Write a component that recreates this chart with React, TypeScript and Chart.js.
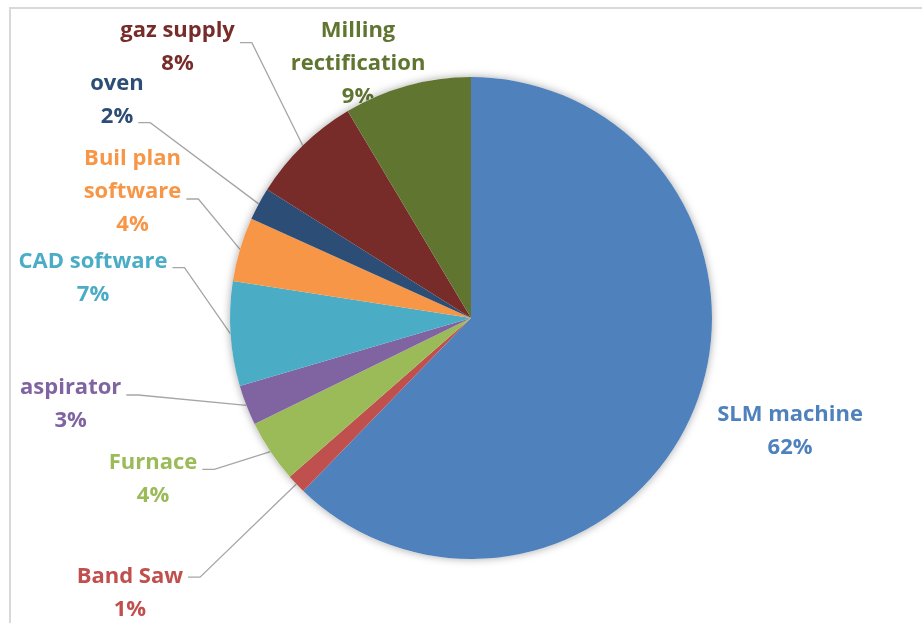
import React, { useEffect, useRef } from "react";
import { Chart, registerables } from "chart.js";

Chart.register(...registerables);

const CATEGORIES = [
  "SLM machine",
  "Band Saw",
  "Furnace",
  "aspirator",
  "CAD software",
  "Buil plan software",
  "oven",
  "gaz supply",
  "Milling rectification",
];
const VALUES = [62.25, 1.3, 4.2, 2.7, 7.0, 4.3, 2.2, 7.5, 8.55];
const COLORS = [
  "#4F81BD",
  "#C0504D",
  "#9BBB59",
  "#8064A2",
  "#4BACC6",
  "#F79646",
  "#2C4D75",
  "#772C2A",
  "#5F7530",
];
// how each category name wraps in its data label
const LABEL_LINES = [
  ["SLM machine"],
  ["Band Saw"],
  ["Furnace"],
  ["aspirator"],
  ["CAD software"],
  ["Buil plan", "software"],
  ["oven"],
  ["gaz supply"],
  ["Milling", "rectification"],
];

// label layout: offset of label centre from the slice's outer mid-point, and leader anchor y (null = no leader)
const LABEL_LAYOUT: [number, number, number | null][] = [
  [95.7, 21.5, null],
  [-166.5, 107.8, -14.7],
  [-117.4, 25.9, -8.2],
  [-175.7, -2.3, -8],
  [-137.5, -57.4, -8.8],
  [-107.5, -58.8, 8.5],
  [-141.7, -104.9, 23.7],
  [-125.2, -99.5, -3.3],
  [-49, -23.6, null],
];

const FONT = 'bold 22px "Open Sans", Lato, sans-serif';
const LINE_H = 33;
const CAP_H = 15.7;

const pieLabels = {
  id: "pieLabels",
  beforeDatasetsDraw(chart: any) {
    const ctx = chart.ctx as CanvasRenderingContext2D;
    const meta = chart.getDatasetMeta(0);
    const total = VALUES.reduce((a, b) => a + b, 0);
    ctx.save();
    // chart frame
    ctx.strokeStyle = "#d9d9d9";
    ctx.lineWidth = 2;
    ctx.beginPath();
    ctx.moveTo(10, chart.height + 10);
    ctx.lineTo(10, 8);
    ctx.lineTo(chart.width + 10, 8);
    ctx.stroke();

    let cx0 = 0, cy0 = 0, r0 = 0;
    meta.data.forEach((arc: any, i: number) => {
      const { x, y, startAngle, endAngle, outerRadius } = arc.getProps(
        ["x", "y", "startAngle", "endAngle", "outerRadius"],
        true
      );
      cx0 = x; cy0 = y; r0 = outerRadius;
      const mid = (startAngle + endAngle) / 2;
      const px = x + Math.cos(mid) * outerRadius;
      const py = y + Math.sin(mid) * outerRadius;
      const [dx, dy, ly] = LABEL_LAYOUT[i];
      const lx = px + dx;
      const lyc = py + dy;
      const lines = [...LABEL_LINES[i], Math.round((VALUES[i] / total) * 100) + "%"];
      const n = lines.length;
      ctx.font = FONT;
      ctx.fillStyle = COLORS[i];
      ctx.textAlign = "center";
      ctx.textBaseline = "alphabetic";
      const centers: number[] = [];
      lines.forEach((t, k) => {
        const c = lyc + (k - (n - 1) / 2) * LINE_H;
        centers.push(c);
        ctx.fillText(t, lx, c + CAP_H / 2);
      });
      if (ly !== null) {
        const sy = lyc + ly;
        let best = 0;
        centers.forEach((c, k) => {
          if (Math.abs(c - sy) < Math.abs(centers[best] - sy)) best = k;
        });
        const w = ctx.measureText(lines[best]).width;
        const sx = lx + w / 2 + 5;
        ctx.strokeStyle = "#a6a6a6";
        ctx.lineWidth = 1.3;
        ctx.beginPath();
        ctx.moveTo(sx, sy);
        ctx.lineTo(sx + 12, sy);
        ctx.lineTo(px, py);
        ctx.stroke();
      }
    });

    // soft shadow around the pie
    ctx.shadowColor = "rgba(0,0,0,0.35)";
    ctx.shadowBlur = 8;
    ctx.fillStyle = "#ffffff";
    ctx.beginPath();
    ctx.arc(cx0, cy0, r0, 0, Math.PI * 2);
    ctx.fill();
    ctx.restore();
  },
};

export default function App() {
  const ref = useRef<HTMLCanvasElement>(null);
  useEffect(() => {
    document.body.style.margin = "0";
    const chart = new Chart(ref.current!, {
      type: "pie",
      data: {
        labels: CATEGORIES,
        datasets: [
          {
            data: VALUES,
            backgroundColor: COLORS,
            borderWidth: 0,
          },
        ],
      },
      options: {
        responsive: false,
        animation: false,
        layout: { padding: { top: 77, bottom: 64, left: 230, right: 210 } },
        plugins: {
          legend: { display: false },
          tooltip: { enabled: false },
          title: { display: false },
        },
      },
      plugins: [pieLabels],
    });
    return () => chart.destroy();
  }, []);
  return (
    <div style={{ width: 922, height: 623, background: "#fff" }}>
      <canvas ref={ref} width={922} height={623} style={{ display: "block" }} />
    </div>
  );
}
